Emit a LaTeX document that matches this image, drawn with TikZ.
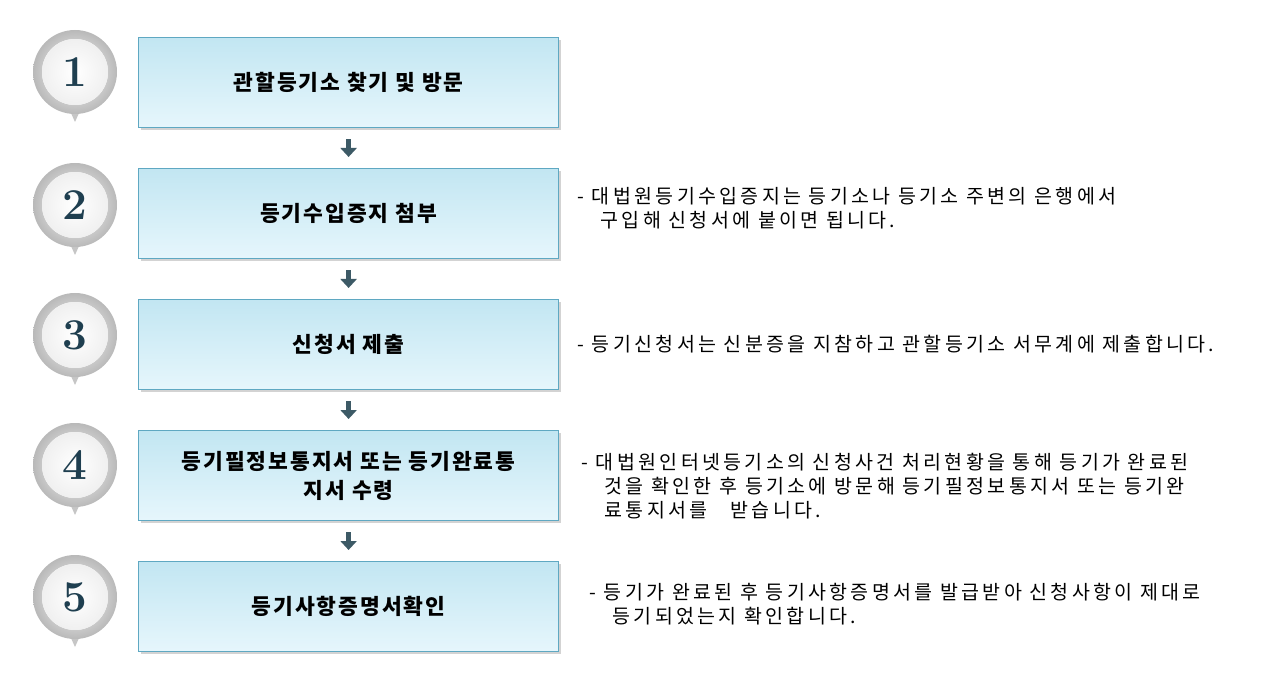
\documentclass[tikz,border=0pt]{standalone}
\usepackage{fontspec}
\newfontfamily\kr[LetterSpace=17]{Noto Sans CJK KR}
\newfontfamily\krb[LetterSpace=9]{Noto Sans CJK KR}
\usetikzlibrary{shadows,arrows.meta}
\definecolor{bxtop}{HTML}{C2E6F2}
\definecolor{bxbot}{HTML}{E6F6FC}
\definecolor{bxline}{HTML}{5FA8C2}
\definecolor{arr}{HTML}{3D5A66}
\definecolor{numc}{HTML}{1F3F50}
\begin{document}
\begin{tikzpicture}[x=1pt,y=-1pt,
 box/.style={draw=bxline,line width=1.2pt,top color=bxtop,bottom color=bxbot,minimum width=420pt,minimum height=90pt,anchor=north west,align=center,font=\krb\bfseries\fontsize{21.5}{29}\selectfont,drop shadow={shadow xshift=2pt,shadow yshift=-2pt,opacity=.35}},
 desc/.style={anchor=north west,align=left,font=\kr\fontsize{19.5}{24}\selectfont},
 num/.style={font=\fontsize{44}{44}\selectfont\bfseries,text=numc},
 flow/.style={draw=arr,line width=5pt,-{Triangle[length=9pt,width=16pt]}}]
\useasboundingbox (0,0) rectangle (1280,676);
\newcommand{\badge}[3]{%
 \fill[gray!45] (#1-9,#2+30) -- (#1,#2+50) -- (#1+9,#2+30) -- cycle;
 \shade[inner color=white,outer color=gray!55] (#1,#2) circle (42);
 \fill[white] (#1,#2) circle (33);
 \shade[inner color=white,outer color=gray!12] (#1,#2) circle (33);
 \node[num] (n#3) at (#1,#2) {#3};}
\badge{75}{72}{1}
\badge{75}{205}{2}
\badge{75}{335}{3}
\badge{75}{465}{4}
\badge{75}{597}{5}
\node[box] (b1) at (138,37) {관할등기소 찾기 및 방문};
\node[box] (b2) at (138,168) {등기수입증지 첨부};
\node[box] (b3) at (138,299) {신청서 제출};
\node[box] (b4) at (138,430) {등기필정보통지서 또는 등기완료통\\지서 수령};
\node[box] (b5) at (138,561) {등기사항증명서확인};
\foreach \a/\b in {b1/b2,b2/b3,b3/b4,b4/b5}
 \draw[flow] ([yshift=-11pt]\a.south) -- ([yshift=11pt]\b.north);
\node[desc] (d2) at (574,184) {- 대법원등기수입증지는 등기소나 등기소 주변의 은행에서\\\ \ \ 구입해 신청서에 붙이면 됩니다.};
\node[desc] (d3) at (574,332) {- 등기신청서는 신분증을 지참하고 관할등기소 서무계에 제출합니다.};
\node[desc] (d4) at (578,450) {- 대법원인터넷등기소의 신청사건 처리현황을 통해 등기가 완료된\\\ \ \ 것을 확인한 후 등기소에 방문해 등기필정보통지서 또는 등기완\\\ \ \ 료통지서를\ \ \ 받습니다.};
\node[desc] (d5) at (586,580) {- 등기가 완료된 후 등기사항증명서를 발급받아 신청사항이 제대로\\\ \ \ 등기되었는지 확인합니다.};
\end{tikzpicture}
\end{document}
